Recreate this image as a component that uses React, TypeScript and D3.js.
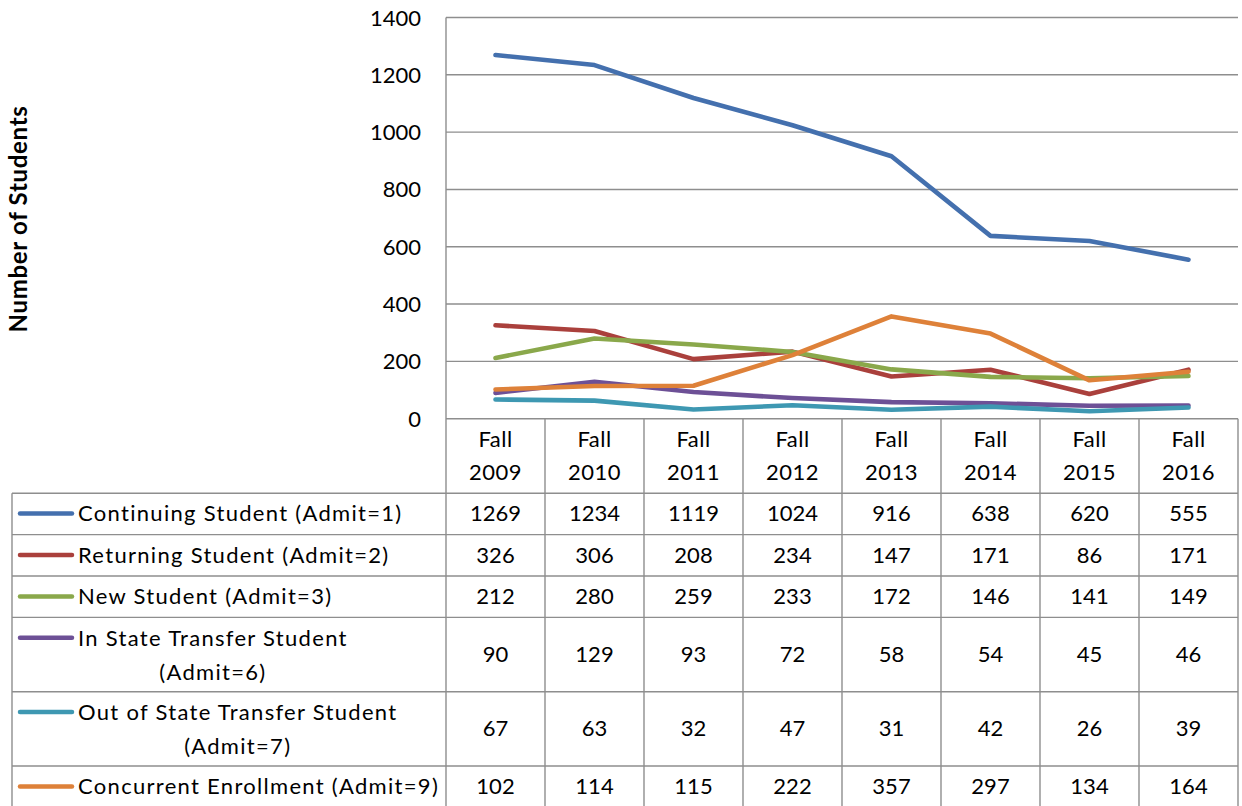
import React, { useEffect, useRef } from "react";
import * as d3 from "d3";

const categories = ["Fall 2009", "Fall 2010", "Fall 2011", "Fall 2012", "Fall 2013", "Fall 2014", "Fall 2015", "Fall 2016"];
const continuing = [1269, 1234, 1119, 1024, 916, 638, 620, 555];
const returning = [326, 306, 208, 234, 147, 171, 86, 171];
const newStudent = [212, 280, 259, 233, 172, 146, 141, 149];
const inStateTransfer = [90, 129, 93, 72, 58, 54, 45, 46];
const outStateTransfer = [67, 63, 32, 47, 31, 42, 26, 39];
const concurrent = [102, 114, 115, 222, 357, 297, 134, 164];

const seriesLabels = [
  ["Continuing Student (Admit=1)"],
  ["Returning Student (Admit=2)"],
  ["New Student (Admit=3)"],
  ["In State Transfer Student", "(Admit=6)"],
  ["Out of State Transfer Student", "(Admit=7)"],
  ["Concurrent Enrollment (Admit=9)"],
];
const seriesColors = ["#4470ae", "#aa403c", "#8aa84b", "#6d5096", "#3e98b2", "#de8139"];
const yTicks = [0, 200, 400, 600, 800, 1000, 1200, 1400];
const yTitle = "Number of Students";

const W = 1242;
const H = 806;
const FONT = "Lato, 'Open Sans', sans-serif";
const GRID = "#8e8e8e";

export default function App() {
  const ref = useRef<SVGSVGElement | null>(null);

  useEffect(() => {
    const values = [continuing, returning, newStudent, inStateTransfer, outStateTransfer, concurrent];
    const svg = d3.select(ref.current);
    svg.selectAll("*").remove();

    const plotLeft = 446, plotRight = 1238, plotTop = 17.5, plotBottom = 418.7;
    const tableLeft = 12;
    const y = d3.scaleLinear().domain([0, 1400]).range([plotBottom, plotTop]);
    const x = d3.scaleBand().domain(categories).range([plotLeft, plotRight]);
    const cx = (c: string) => (x(c) as number) + x.bandwidth() / 2;

    // gridlines
    svg.append("g").selectAll("line").data(yTicks).join("line")
      .attr("x1", plotLeft).attr("x2", plotRight)
      .attr("y1", (d) => y(d)).attr("y2", (d) => y(d))
      .attr("stroke", GRID).attr("stroke-width", 1.4);

    // y tick labels
    svg.append("g").selectAll("text").data(yTicks).join("text")
      .attr("x", 421).attr("y", (d) => y(d) + 8)
      .attr("text-anchor", "end")
      .attr("font-family", FONT).attr("font-size", 22).attr("fill", "#000")
      .text((d) => String(d));

    // y title
    svg.append("text")
      .attr("transform", `translate(27,219) rotate(-90)`)
      .attr("text-anchor", "middle")
      .attr("font-family", FONT).attr("font-size", 24).attr("font-weight", "bold")
      .attr("letter-spacing", 0.7)
      .text(yTitle);

    // table geometry
    const headerH = 74.5;
    const rowHeights = seriesLabels.map((l) => (l.length > 1 ? 74.3 : 41.4));
    const rowTops: number[] = [];
    let acc = plotBottom + headerH;
    rowHeights.forEach((h) => { rowTops.push(acc); acc += h; });
    const tableBottom = acc;

    const tg = svg.append("g");
    const hLines = [plotBottom + headerH, ...rowTops.map((t, i) => t + rowHeights[i])];
    tg.selectAll("line.h").data(hLines).join("line")
      .attr("x1", tableLeft).attr("x2", plotRight)
      .attr("y1", (d) => d).attr("y2", (d) => d)
      .attr("stroke", GRID).attr("stroke-width", 1.4);
    const colEdges = [...categories.map((c) => x(c) as number), plotRight];
    tg.selectAll("line.v").data(colEdges).join("line")
      .attr("x1", (d) => d).attr("x2", (d) => d)
      .attr("y1", (_d, i) => (i === 0 ? plotTop : plotBottom)).attr("y2", tableBottom)
      .attr("stroke", GRID).attr("stroke-width", 1.4);
    tg.append("line")
      .attr("x1", tableLeft).attr("x2", tableLeft)
      .attr("y1", plotBottom + headerH).attr("y2", tableBottom)
      .attr("stroke", GRID).attr("stroke-width", 1.4);

    // header labels
    categories.forEach((c) => {
      const parts = c.split(" ");
      parts.forEach((p, j) => {
        tg.append("text")
          .attr("x", cx(c)).attr("y", plotBottom + 28 + j * 33.3)
          .attr("text-anchor", "middle")
          .attr("font-family", FONT).attr("font-size", 22)
          .attr("letter-spacing", 0.5)
          .text(p);
      });
    });

    // rows
    seriesLabels.forEach((lab, i) => {
      const top = rowTops[i];
      const mid = top + rowHeights[i] / 2;
      const firstBase = lab.length > 1 ? mid - 9 : mid + 7.5;
      tg.append("line")
        .attr("x1", 20).attr("x2", 72)
        .attr("y1", firstBase - 7.8).attr("y2", firstBase - 7.8)
        .attr("stroke", seriesColors[i]).attr("stroke-width", 4.5)
        .attr("stroke-linecap", "round");
      const t1 = tg.append("text")
        .attr("x", 78).attr("y", firstBase)
        .attr("font-family", FONT).attr("font-size", 22)
        .attr("letter-spacing", 1.3)
        .text(lab[0]);
      if (lab.length > 1) {
        const w = (t1.node() as SVGTextElement).getComputedTextLength();
        tg.append("text")
          .attr("x", 78 + w / 2).attr("y", firstBase + 34.3)
          .attr("text-anchor", "middle")
          .attr("font-family", FONT).attr("font-size", 22)
          .attr("letter-spacing", 1.3)
          .text(lab[1]);
      }
      values[i].forEach((v, j) => {
        tg.append("text")
          .attr("x", cx(categories[j])).attr("y", mid + 7.5)
          .attr("text-anchor", "middle")
          .attr("font-family", FONT).attr("font-size", 22)
          .text(String(v));
      });
    });

    // lines
    const line = d3.line<number>()
      .x((_d, j) => cx(categories[j]))
      .y((d) => y(d));
    svg.append("g").selectAll("path").data(values).join("path")
      .attr("d", (d) => line(d))
      .attr("fill", "none")
      .attr("stroke", (_d, i) => seriesColors[i])
      .attr("stroke-width", 4.6)
      .attr("stroke-linejoin", "round")
      .attr("stroke-linecap", "round");
  }, []);

  return (
    <div style={{ position: "fixed", left: 0, top: 0, width: W, height: H, background: "#fff" }}>
      <svg ref={ref} width={W} height={H} style={{ display: "block" }} />
    </div>
  );
}
